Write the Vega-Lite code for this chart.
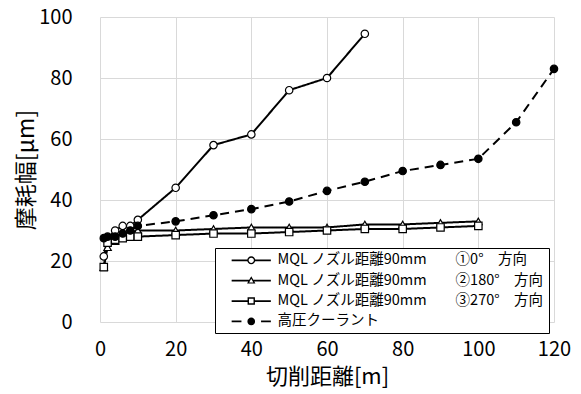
{
  "$schema": "https://vega.github.io/schema/vega-lite/v6.json",
  "width": 454,
  "height": 305,
  "autosize": "none",
  "padding": {"left": 100, "top": 17, "right": 27, "bottom": 72},
  "background": "white",
  "config": {
    "font": "Noto Sans CJK JP",
    "view": {"stroke": null},
    "axis": {
      "gridColor": "#d9d9d9",
      "gridWidth": 1,
      "domain": false,
      "ticks": false,
      "labelColor": "black",
      "labelFontSize": 20,
      "labelFont": "Noto Sans CJK JP",
      "titleColor": "black",
      "titleFontSize": 23,
      "titleFontWeight": "normal",
      "titleFont": "Noto Sans CJK JP"
    }
  },
  "data": {
    "values": [
      {"s": "MQL ノズル距離90mm　　①0°　方向", "x": 1, "y": 21.5},
      {"s": "MQL ノズル距離90mm　　①0°　方向", "x": 2, "y": 27.5},
      {"s": "MQL ノズル距離90mm　　①0°　方向", "x": 4, "y": 30},
      {"s": "MQL ノズル距離90mm　　①0°　方向", "x": 6, "y": 31.5},
      {"s": "MQL ノズル距離90mm　　①0°　方向", "x": 8, "y": 31.5},
      {"s": "MQL ノズル距離90mm　　①0°　方向", "x": 10, "y": 33.5},
      {"s": "MQL ノズル距離90mm　　①0°　方向", "x": 20, "y": 44},
      {"s": "MQL ノズル距離90mm　　①0°　方向", "x": 30, "y": 58},
      {"s": "MQL ノズル距離90mm　　①0°　方向", "x": 40, "y": 61.5},
      {"s": "MQL ノズル距離90mm　　①0°　方向", "x": 50, "y": 76},
      {"s": "MQL ノズル距離90mm　　①0°　方向", "x": 60, "y": 80},
      {"s": "MQL ノズル距離90mm　　①0°　方向", "x": 70, "y": 94.5},

      {"s": "MQL ノズル距離90mm　　②180°　方向", "x": 1, "y": 18},
      {"s": "MQL ノズル距離90mm　　②180°　方向", "x": 2, "y": 24.5},
      {"s": "MQL ノズル距離90mm　　②180°　方向", "x": 4, "y": 26.5},
      {"s": "MQL ノズル距離90mm　　②180°　方向", "x": 6, "y": 28},
      {"s": "MQL ノズル距離90mm　　②180°　方向", "x": 8, "y": 29.5},
      {"s": "MQL ノズル距離90mm　　②180°　方向", "x": 10, "y": 30},
      {"s": "MQL ノズル距離90mm　　②180°　方向", "x": 20, "y": 30},
      {"s": "MQL ノズル距離90mm　　②180°　方向", "x": 30, "y": 30.5},
      {"s": "MQL ノズル距離90mm　　②180°　方向", "x": 40, "y": 31},
      {"s": "MQL ノズル距離90mm　　②180°　方向", "x": 50, "y": 31},
      {"s": "MQL ノズル距離90mm　　②180°　方向", "x": 60, "y": 31},
      {"s": "MQL ノズル距離90mm　　②180°　方向", "x": 70, "y": 32},
      {"s": "MQL ノズル距離90mm　　②180°　方向", "x": 80, "y": 32},
      {"s": "MQL ノズル距離90mm　　②180°　方向", "x": 90, "y": 32.5},
      {"s": "MQL ノズル距離90mm　　②180°　方向", "x": 100, "y": 33},

      {"s": "MQL ノズル距離90mm　　③270°　方向", "x": 1, "y": 18},
      {"s": "MQL ノズル距離90mm　　③270°　方向", "x": 2, "y": 26},
      {"s": "MQL ノズル距離90mm　　③270°　方向", "x": 4, "y": 27},
      {"s": "MQL ノズル距離90mm　　③270°　方向", "x": 6, "y": 27.5},
      {"s": "MQL ノズル距離90mm　　③270°　方向", "x": 8, "y": 28},
      {"s": "MQL ノズル距離90mm　　③270°　方向", "x": 10, "y": 28},
      {"s": "MQL ノズル距離90mm　　③270°　方向", "x": 20, "y": 28.5},
      {"s": "MQL ノズル距離90mm　　③270°　方向", "x": 30, "y": 29},
      {"s": "MQL ノズル距離90mm　　③270°　方向", "x": 40, "y": 29},
      {"s": "MQL ノズル距離90mm　　③270°　方向", "x": 50, "y": 29.5},
      {"s": "MQL ノズル距離90mm　　③270°　方向", "x": 60, "y": 30},
      {"s": "MQL ノズル距離90mm　　③270°　方向", "x": 70, "y": 30.5},
      {"s": "MQL ノズル距離90mm　　③270°　方向", "x": 80, "y": 30.5},
      {"s": "MQL ノズル距離90mm　　③270°　方向", "x": 90, "y": 31},
      {"s": "MQL ノズル距離90mm　　③270°　方向", "x": 100, "y": 31.5},

      {"s": "高圧クーラント", "x": 1, "y": 27.5},
      {"s": "高圧クーラント", "x": 2, "y": 28},
      {"s": "高圧クーラント", "x": 4, "y": 28},
      {"s": "高圧クーラント", "x": 6, "y": 29},
      {"s": "高圧クーラント", "x": 8, "y": 30},
      {"s": "高圧クーラント", "x": 10, "y": 31.5},
      {"s": "高圧クーラント", "x": 20, "y": 33},
      {"s": "高圧クーラント", "x": 30, "y": 35},
      {"s": "高圧クーラント", "x": 40, "y": 37},
      {"s": "高圧クーラント", "x": 50, "y": 39.5},
      {"s": "高圧クーラント", "x": 60, "y": 43},
      {"s": "高圧クーラント", "x": 70, "y": 46},
      {"s": "高圧クーラント", "x": 80, "y": 49.5},
      {"s": "高圧クーラント", "x": 90, "y": 51.5},
      {"s": "高圧クーラント", "x": 100, "y": 53.5},
      {"s": "高圧クーラント", "x": 110, "y": 65.5},
      {"s": "高圧クーラント", "x": 120, "y": 83}
    ]
  },
  "encoding": {
    "x": {
      "field": "x", "type": "quantitative",
      "scale": {"domain": [0, 120], "nice": false},
      "axis": {"values": [0, 20, 40, 60, 80, 100, 120], "title": "切削距離[m]", "titleFontSize": 22, "labelPadding": 17, "labelDx": -4, "labelFlush": false, "titlePadding": 7}
    },
    "y": {
      "field": "y", "type": "quantitative",
      "scale": {"domain": [0, 100], "nice": false},
      "axis": {"values": [0, 20, 40, 60, 80, 100], "title": "摩耗幅[μm]", "labelPadding": 28, "titlePadding": 0}
    }
  },
  "resolve": {"scale": {"shape": "independent"}},
  "layer": [
    {
      "mark": {"type": "line", "color": "black", "strokeWidth": 2},
      "encoding": {
        "strokeDash": {
          "field": "s", "type": "nominal",
          "scale": {
            "domain": ["MQL ノズル距離90mm　　①0°　方向", "MQL ノズル距離90mm　　②180°　方向", "MQL ノズル距離90mm　　③270°　方向", "高圧クーラント"],
            "range": [[1, 0], [1, 0], [1, 0], [9, 6]]
          },
          "legend": null
        }
      }
    },
    {
      "mark": {"type": "point", "filled": true, "stroke": "black", "strokeWidth": 1.2, "opacity": 1, "size": 55},
      "encoding": {
        "fill": {
          "field": "s", "type": "nominal",
          "scale": {
            "domain": ["MQL ノズル距離90mm　　①0°　方向", "MQL ノズル距離90mm　　②180°　方向", "MQL ノズル距離90mm　　③270°　方向", "高圧クーラント"],
            "range": ["white", "white", "white", "black"]
          },
          "legend": null
        },
        "shape": {
          "field": "s", "type": "nominal",
          "scale": {
            "domain": ["MQL ノズル距離90mm　　①0°　方向", "MQL ノズル距離90mm　　②180°　方向", "MQL ノズル距離90mm　　③270°　方向", "高圧クーラント"],
            "range": ["circle", "triangle-up", "square", "circle"]
          },
          "legend": null
        }
      }
    },
    {
      "transform": [{"filter": "false"}],
      "mark": {"type": "point", "filled": true, "color": "black"},
      "encoding": {
        "shape": {
          "field": "s", "type": "nominal",
          "scale": {
            "domain": ["MQL ノズル距離90mm　　①0°　方向", "MQL ノズル距離90mm　　②180°　方向", "MQL ノズル距離90mm　　③270°　方向", "高圧クーラント"],
            "range": [
              "M-5.6,-0.25L-0.95,-0.25L-0.95,0.25L-5.6,0.25ZM0.95,-0.25L5.6,-0.25L5.6,0.25L0.95,0.25ZM-1.15,0A1.15,1.15 0 1,1 1.15,0A1.15,1.15 0 1,1 -1.15,0ZM-0.75,0A0.75,0.75 0 1,0 0.75,0A0.75,0.75 0 1,0 -0.75,0Z",
              "M-5.6,-0.25L-0.5,-0.25L-0.5,0.25L-5.6,0.25ZM0.5,-0.25L5.6,-0.25L5.6,0.25L0.5,0.25ZM0,-1.25L1.2,0.85L-1.2,0.85ZM0,-0.55L-0.6,0.5L0.6,0.5Z",
              "M-5.6,-0.25L-0.85,-0.25L-0.85,0.25L-5.6,0.25ZM0.85,-0.25L5.6,-0.25L5.6,0.25L0.85,0.25ZM-1.05,-1.05L1.05,-1.05L1.05,1.05L-1.05,1.05ZM-0.65,-0.65L-0.65,0.65L0.65,0.65L0.65,-0.65Z",
              "M-5.6,-0.25L-2.8,-0.25L-2.8,0.25L-5.6,0.25ZM2.8,-0.25L5.6,-0.25L5.6,0.25L2.8,0.25ZM-1.1,0A1.1,1.1 0 1,1 1.1,0A1.1,1.1 0 1,1 -1.1,0Z"
            ]
          },
          "legend": {
            "orient": "none",
            "legendX": 115,
            "legendY": 231,
            "title": null,
            "strokeColor": "black",
            "fillColor": "white",
            "padding": 5,
            "symbolSize": 49,
            "symbolOffset": 24,
            "labelOffset": 19,
            "rowPadding": 5.4,
            "labelFontSize": 14.5,
            "labelFont": "Noto Sans CJK JP",
            "labelColor": "black",
            "labelLimit": 400,
            "symbolFillColor": "black",
            "symbolStrokeColor": "black",
            "symbolStrokeWidth": 0,
            "symbolOpacity": 1
          }
        }
      }
    }
  ]
}
